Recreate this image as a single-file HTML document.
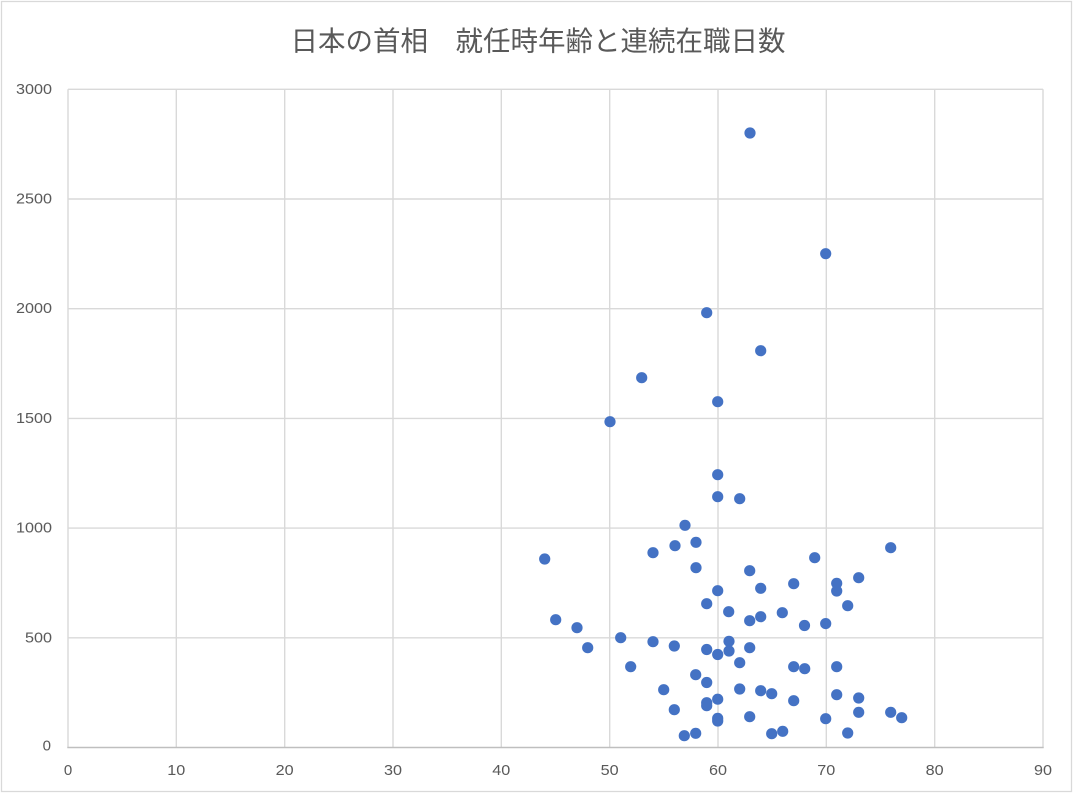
<!DOCTYPE html>
<html>
<head>
<meta charset="utf-8">
<style>
  html, body { margin:0; padding:0; background:#ffffff; }
  body { width:1074px; height:794px; overflow:hidden; }
  svg { display:block; }
  .tick { font-family:"Liberation Sans", "Noto Sans CJK JP", sans-serif; font-size:15px; fill:#595959; }
  .title { font-family:"Liberation Sans", "Noto Sans CJK JP", sans-serif; font-size:27.5px; fill:#595959; }
</style>
</head>
<body>
<svg width="1074" height="794" viewBox="0 0 1074 794" xmlns="http://www.w3.org/2000/svg">
  <rect x="0" y="0" width="1074" height="794" fill="#ffffff"/>
  <rect x="1.5" y="1.5" width="1070" height="790" fill="none" stroke="#d9d9d9" stroke-width="1.3"/>
  <text class="title" x="538" y="41" text-anchor="middle" dominant-baseline="central">日本の首相　就任時年齢と連続在職日数</text>
  <g stroke="#d9d9d9" stroke-width="1.4" fill="none">
    <line x1="68" y1="89.3" x2="1043" y2="89.3"/>
    <line x1="68" y1="199" x2="1043" y2="199"/>
    <line x1="68" y1="308.7" x2="1043" y2="308.7"/>
    <line x1="68" y1="418.4" x2="1043" y2="418.4"/>
    <line x1="68" y1="528.1" x2="1043" y2="528.1"/>
    <line x1="68" y1="637.8" x2="1043" y2="637.8"/>
    <line x1="68" y1="89.3" x2="68" y2="747.5"/>
    <line x1="176.3" y1="89.3" x2="176.3" y2="747.5"/>
    <line x1="284.7" y1="89.3" x2="284.7" y2="747.5"/>
    <line x1="393" y1="89.3" x2="393" y2="747.5"/>
    <line x1="501.3" y1="89.3" x2="501.3" y2="747.5"/>
    <line x1="609.7" y1="89.3" x2="609.7" y2="747.5"/>
    <line x1="718" y1="89.3" x2="718" y2="747.5"/>
    <line x1="826.3" y1="89.3" x2="826.3" y2="747.5"/>
    <line x1="934.7" y1="89.3" x2="934.7" y2="747.5"/>
    <line x1="1043" y1="89.3" x2="1043" y2="747.5"/>
  </g>
  <line x1="67.3" y1="747.5" x2="1043.7" y2="747.5" stroke="#bfbfbf" stroke-width="1.5"/>
  <g class="tick" text-anchor="end" dominant-baseline="central">
    <text x="52" y="89.3" textLength="36" lengthAdjust="spacingAndGlyphs">3000</text>
    <text x="52" y="199" textLength="36" lengthAdjust="spacingAndGlyphs">2500</text>
    <text x="52" y="308.7" textLength="36" lengthAdjust="spacingAndGlyphs">2000</text>
    <text x="52" y="418.4" textLength="36" lengthAdjust="spacingAndGlyphs">1500</text>
    <text x="52" y="528.1" textLength="36" lengthAdjust="spacingAndGlyphs">1000</text>
    <text x="52" y="637.8" textLength="27" lengthAdjust="spacingAndGlyphs">500</text>
    <text x="51" y="746">0</text>
  </g>
  <g class="tick" text-anchor="middle" dominant-baseline="central">
    <text x="68" y="770.5">0</text>
    <text x="176.3" y="770.5" textLength="18" lengthAdjust="spacingAndGlyphs">10</text>
    <text x="284.7" y="770.5" textLength="18" lengthAdjust="spacingAndGlyphs">20</text>
    <text x="393" y="770.5" textLength="18" lengthAdjust="spacingAndGlyphs">30</text>
    <text x="501.3" y="770.5" textLength="18" lengthAdjust="spacingAndGlyphs">40</text>
    <text x="609.7" y="770.5" textLength="18" lengthAdjust="spacingAndGlyphs">50</text>
    <text x="718" y="770.5" textLength="18" lengthAdjust="spacingAndGlyphs">60</text>
    <text x="826.3" y="770.5" textLength="18" lengthAdjust="spacingAndGlyphs">70</text>
    <text x="934.7" y="770.5" textLength="18" lengthAdjust="spacingAndGlyphs">80</text>
    <text x="1043" y="770.5" textLength="18" lengthAdjust="spacingAndGlyphs">90</text>
  </g>
  <g fill="#4472c4">
    <circle cx="544.7" cy="559" r="5.6"/>
    <circle cx="555.7" cy="619.7" r="5.6"/>
    <circle cx="577" cy="627.7" r="5.6"/>
    <circle cx="587.7" cy="647.7" r="5.6"/>
    <circle cx="610" cy="421.7" r="5.6"/>
    <circle cx="620.7" cy="637.7" r="5.6"/>
    <circle cx="630.7" cy="666.7" r="5.6"/>
    <circle cx="641.7" cy="377.7" r="5.6"/>
    <circle cx="653" cy="552.7" r="5.6"/>
    <circle cx="653" cy="641.7" r="5.6"/>
    <circle cx="663.7" cy="689.7" r="5.6"/>
    <circle cx="675" cy="545.7" r="5.6"/>
    <circle cx="674.3" cy="646" r="5.6"/>
    <circle cx="674.3" cy="709.7" r="5.6"/>
    <circle cx="685" cy="525.3" r="5.6"/>
    <circle cx="684.3" cy="735.7" r="5.6"/>
    <circle cx="696" cy="542.3" r="5.6"/>
    <circle cx="696" cy="567.7" r="5.6"/>
    <circle cx="695.7" cy="674.7" r="5.6"/>
    <circle cx="695.7" cy="733.3" r="5.6"/>
    <circle cx="706.7" cy="312.7" r="5.6"/>
    <circle cx="706.7" cy="603.7" r="5.6"/>
    <circle cx="706.7" cy="649.5" r="5.6"/>
    <circle cx="706.7" cy="682.5" r="5.6"/>
    <circle cx="706.7" cy="702.7" r="5.6"/>
    <circle cx="706.7" cy="705.7" r="5.6"/>
    <circle cx="717.7" cy="401.7" r="5.6"/>
    <circle cx="717.7" cy="474.7" r="5.6"/>
    <circle cx="717.7" cy="496.7" r="5.6"/>
    <circle cx="717.7" cy="590.7" r="5.6"/>
    <circle cx="717.7" cy="654.5" r="5.6"/>
    <circle cx="717.7" cy="699.2" r="5.6"/>
    <circle cx="717.7" cy="718.3" r="5.6"/>
    <circle cx="717.7" cy="721" r="5.6"/>
    <circle cx="728.7" cy="611.7" r="5.6"/>
    <circle cx="729" cy="641.3" r="5.6"/>
    <circle cx="729" cy="651" r="5.6"/>
    <circle cx="739.7" cy="498.7" r="5.6"/>
    <circle cx="739.7" cy="662.7" r="5.6"/>
    <circle cx="739.7" cy="689" r="5.6"/>
    <circle cx="750" cy="133" r="5.6"/>
    <circle cx="749.7" cy="570.7" r="5.6"/>
    <circle cx="749.7" cy="620.7" r="5.6"/>
    <circle cx="749.7" cy="647.7" r="5.6"/>
    <circle cx="749.7" cy="716.7" r="5.6"/>
    <circle cx="760.7" cy="350.7" r="5.6"/>
    <circle cx="760.7" cy="588.3" r="5.6"/>
    <circle cx="760.7" cy="616.7" r="5.6"/>
    <circle cx="760.7" cy="690.7" r="5.6"/>
    <circle cx="771.7" cy="693.7" r="5.6"/>
    <circle cx="771.7" cy="733.7" r="5.6"/>
    <circle cx="782.3" cy="612.7" r="5.6"/>
    <circle cx="782.7" cy="731.3" r="5.6"/>
    <circle cx="793.7" cy="583.7" r="5.6"/>
    <circle cx="793.7" cy="666.7" r="5.6"/>
    <circle cx="793.7" cy="700.7" r="5.6"/>
    <circle cx="804.5" cy="625.5" r="5.6"/>
    <circle cx="804.7" cy="668.7" r="5.6"/>
    <circle cx="814.7" cy="557.7" r="5.6"/>
    <circle cx="825.7" cy="253.7" r="5.6"/>
    <circle cx="825.7" cy="623.6" r="5.6"/>
    <circle cx="825.7" cy="718.7" r="5.6"/>
    <circle cx="836.7" cy="583.3" r="5.6"/>
    <circle cx="836.7" cy="591" r="5.6"/>
    <circle cx="836.7" cy="666.7" r="5.6"/>
    <circle cx="836.7" cy="694.7" r="5.6"/>
    <circle cx="847.7" cy="605.7" r="5.6"/>
    <circle cx="847.7" cy="733" r="5.6"/>
    <circle cx="858.7" cy="577.7" r="5.6"/>
    <circle cx="858.7" cy="698" r="5.6"/>
    <circle cx="858.7" cy="712.3" r="5.6"/>
    <circle cx="890.7" cy="547.7" r="5.6"/>
    <circle cx="890.7" cy="712.3" r="5.6"/>
    <circle cx="901.7" cy="717.7" r="5.6"/>
  </g>
</svg>
</body>
</html>
